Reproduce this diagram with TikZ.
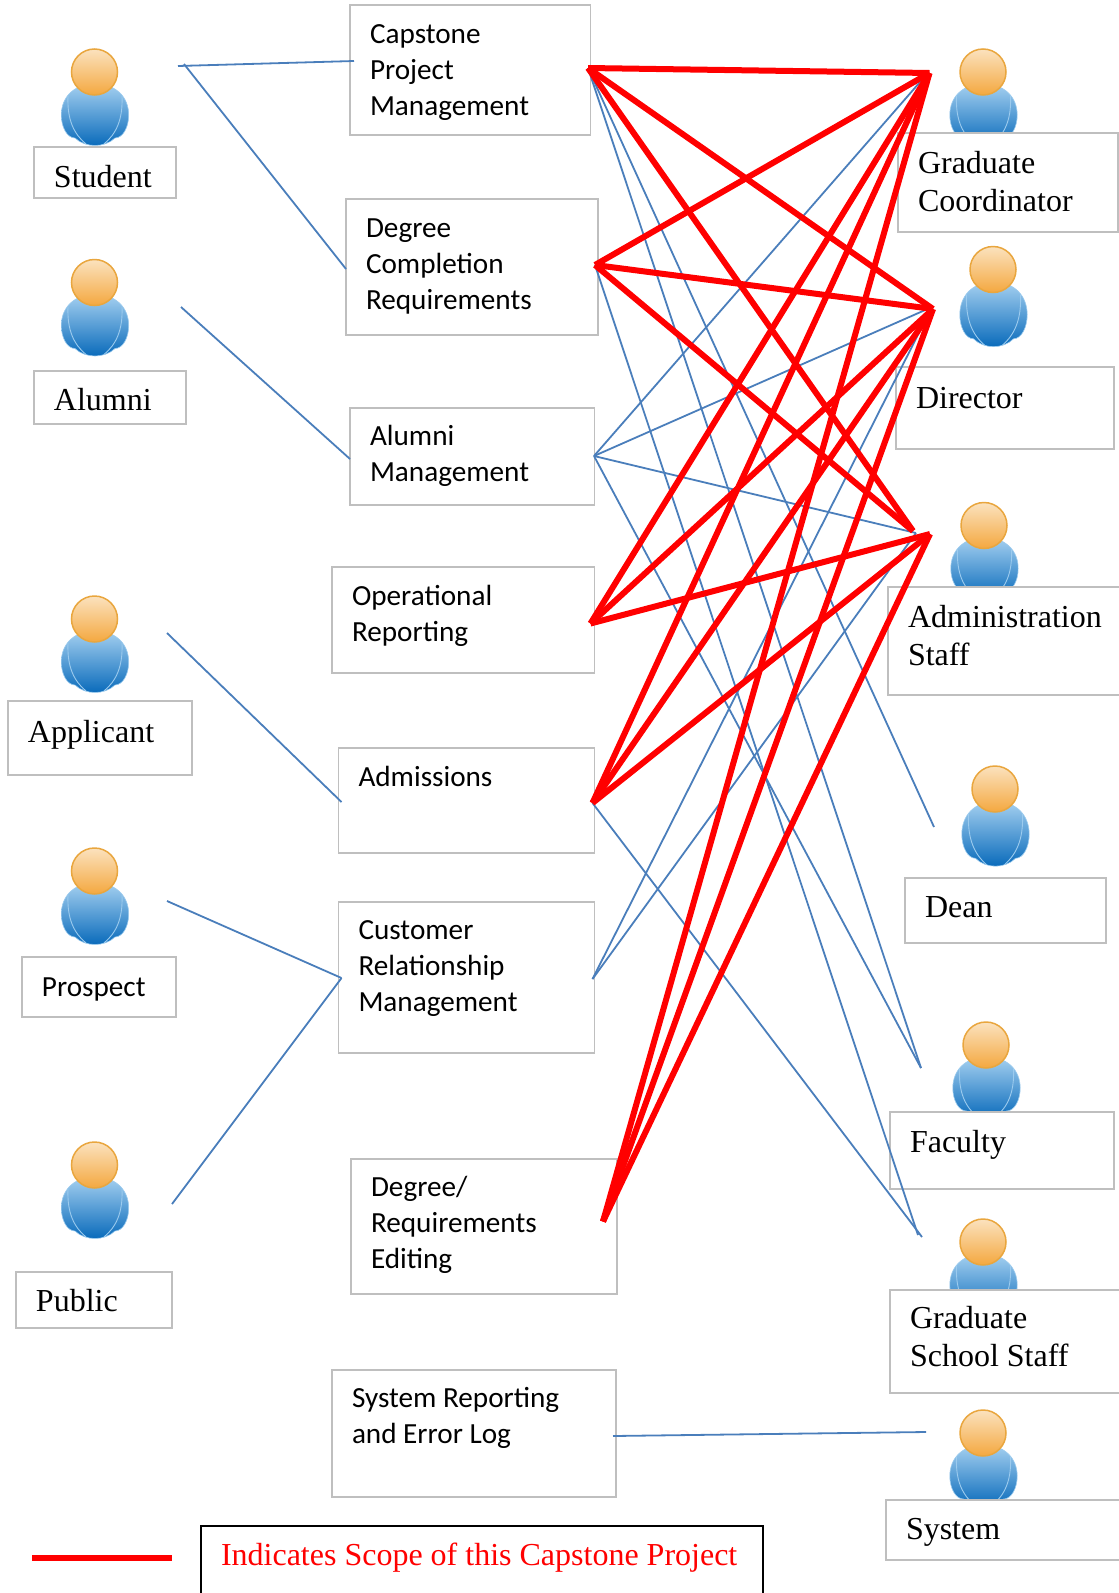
\documentclass[tikz,border=0pt]{standalone}
\usepackage{fontspec}
\setmainfont{Liberation Serif}
\newfontfamily\calibrifont{Carlito}
\usetikzlibrary{calc}
\definecolor{boxgray}{HTML}{BFBFBF}
\definecolor{linkblue}{HTML}{4A7EBB}
\definecolor{scopered}{HTML}{FF0000}
\definecolor{bodytop}{HTML}{A5D0F0}
\definecolor{bodymid}{HTML}{5FA6DE}
\definecolor{bodybot}{HTML}{0A6BBB}
\definecolor{bodyline}{HTML}{9CCBEE}
\definecolor{headtop}{HTML}{FBE2BE}
\definecolor{headbot}{HTML}{F4A840}
\definecolor{headline}{HTML}{E9A63E}
\newcommand\sansT{\calibrifont\fontsize{29.2}{36}\selectfont}
\newcommand\serifT{\fontsize{32}{38}\selectfont}
\tikzset{
  textbox/.style={draw=boxgray,fill=white,line width=1.5pt,inner sep=0pt,outer sep=0pt,anchor=north west},
  legendbox/.style={textbox,draw=black},
  headnode/.style={circle,minimum size=46pt,inner sep=0pt,draw=headline,line width=1.5pt,top color=headtop,bottom color=headbot},
  bodyshape/.style={draw=bodyline,line width=.6pt,top color=bodytop,middle color=bodymid,bottom color=bodybot},
  bodyarc/.style={draw=bodyline,line width=.9pt},
  thin link/.style={draw=linkblue,line width=1.8pt},
  scope link/.style={draw=scopered,line width=6pt}
}
% \rbox[style]{name}{x0}{y0}{x1}{y1}{first baseline offset}{font}{text}
\newcommand\rbox[9][textbox]{%
  \pgfmathsetmacro\bw{#5-#3}%
  \pgfmathsetmacro\bh{#6-#4}%
  \pgfmathsetmacro\bp{#7-22}%
  \node[#1] (#2) at (#3,#4) {\parbox[c][\bh pt][t]{\bw pt}{#8\raggedright\leftskip=20pt\relax\vspace*{\bp pt}\rule{0pt}{22pt}#9}};%
}
% \actor[body y scale]{name}{x}{y}
\newcommand\actor[4][1]{%
  \begin{scope}[shift={(#3,#4)}]
    \begin{scope}[xshift=0.5pt,yscale=#1]
    \path[bodyshape] (0,12) .. controls (22,12) and (33.7,26) .. (33.7,43)
      .. controls (33.7,55) and (28,66) .. (20,66)
      .. controls (15,71) and (7,73.5) .. (0,73.5)
      .. controls (-7,73.5) and (-15,71) .. (-20,66)
      .. controls (-28,66) and (-33.7,55) .. (-33.7,43)
      .. controls (-33.7,26) and (-22,12) .. (0,12) -- cycle;
    \path[bodyarc] (-27,24) .. controls (-28,48) and (-21,62) .. (-9,72);
    \path[bodyarc] (27,24) .. controls (28,48) and (21,62) .. (9,72);
    \end{scope}
    \node[headnode] (#2) at (0,0) {};
  \end{scope}%
}
\begin{document}
\begin{tikzpicture}[x=1pt,y=-1pt]
\useasboundingbox (0,0) rectangle (1119,1593);
\clip (0,0) rectangle (1119,1593);

% actors
\actor{student}{94.5}{72}
\actor{alumni}{94.5}{282.5}
\actor{applicant}{94.5}{619}
\actor{prospect}{94.5}{871}
\actor{public}{94.5}{1165}
\actor{gradcoord}{983}{72}
\actor[1.05]{director}{993}{269.5}
\actor{adminstaff}{984}{525.5}
\actor[1.05]{dean}{995}{789}
\actor{faculty}{986}{1045}
\actor{gradstaff}{983}{1242}
\actor{system}{983}{1433}

% actor labels
\rbox{studentL}{34}{147}{176}{198}{40}{\serifT}{Student}
\rbox{alumniL}{34}{371}{186}{424}{39.5}{\serifT}{Alumni}
\rbox{applicantL}{8}{701}{192}{775}{41}{\serifT}{Applicant}
\rbox{prospectL}{22}{957}{176}{1017}{39}{\sansT}{Prospect}
\rbox{publicL}{16}{1272}{172}{1328}{39}{\serifT}{Public}
\rbox{gradcoordL}{898}{133}{1118}{232}{40}{\serifT}{Graduate\\Coordinator}
\rbox{directorL}{896}{367}{1114}{449}{41}{\serifT}{Director}
\rbox{adminstaffL}{888}{587}{1128}{695}{40}{\serifT}{Administration\\Staff}
\rbox{deanL}{905}{878}{1106}{943}{39.5}{\serifT}{Dean}
\rbox{facultyL}{890}{1112}{1114}{1189}{40}{\serifT}{Faculty}
\rbox{gradstaffL}{890}{1290}{1128}{1393}{38.5}{\serifT}{Graduate\\School Staff}
\rbox{systemL}{886}{1500}{1128}{1560}{39}{\serifT}{System}

% use-case boxes
\rbox{capstone}{350}{5}{590.5}{135}{38}{\sansT}{Capstone\\Project\\Management}
\rbox{degree}{346}{199}{598}{335}{38}{\sansT}{Degree\\Completion\\Requirements}
\rbox{alumnimgmt}{350}{408}{594.5}{505}{37}{\sansT}{Alumni\\Management}
\rbox{operational}{332}{567}{594.5}{673}{38}{\sansT}{Operational\\Reporting}
\rbox{admissions}{338.5}{748}{594.5}{853}{38}{\sansT}{Admissions}
\rbox{crm}{338.5}{902}{594.5}{1053}{37}{\sansT}{Customer\\Relationship\\Management}
\rbox{degedit}{351}{1159}{617}{1294}{37}{\sansT}{Degree/\\Requirements\\Editing}
\rbox{sysreport}{332}{1370}{616}{1497}{37}{\sansT}{System Reporting\\and Error Log}
\rbox[legendbox]{legend}{201}{1526}{763}{1610}{39}{\serifT\color{scopered}}{Indicates Scope of this Capstone Project}

% hubs on the use-case boxes
\coordinate (hubCap) at ($(capstone.east)+(-2.5,-2)$);
\coordinate (hubDeg) at ($(degree.east)+(-3,-2)$);
\coordinate (hubAlu) at ($(alumnimgmt.east)+(-0.5,-0.5)$);
\coordinate (hubOpe) at ($(operational.east)+(-4,3.5)$);
\coordinate (hubAdm) at ($(admissions.east)+(-2,2.5)$);
\coordinate (hubCrm) at ($(crm.east)+(-2,1.5)$);
\coordinate (hubEdt) at ($(degedit.east)+(-14,-5)$);

% free ends near the actors
\coordinate (stuA) at (178,66);
\coordinate (stuB) at (184,64);
\coordinate (aluA) at (181,307);
\coordinate (appA) at (167,633);
\coordinate (proA) at (167,901);
\coordinate (pubA) at (172,1204);
\coordinate (capIn) at (354,61);
\coordinate (degIn) at (346,269);
\coordinate (aluIn) at (350,459);
\coordinate (admIn) at (341.5,802);
\coordinate (crmIn) at (341.5,978);
\coordinate (sysOut) at (613,1436);
\coordinate (sysIn) at (926,1432);
\coordinate (gcT) at (929.5,73);
\coordinate (dirT) at (933,309);
\coordinate (admT) at (930,534);
\coordinate (admTb) at (913,531);
\coordinate (gcB) at (927,74);
\coordinate (dirB) at (932,307);
\coordinate (admB) at (916,533);
\coordinate (deanB) at (934,827);
\coordinate (facB) at (921,1068);
\coordinate (gssA) at (918,1235);
\coordinate (gssB) at (922,1237);
\coordinate (legA) at (32,1558);
\coordinate (legB) at (172,1558);

% left-hand links
\draw[thin link] (stuA) -- (capIn);
\draw[thin link] (stuB) -- (degIn);
\draw[thin link] (aluA) -- (aluIn);
\draw[thin link] (appA) -- (admIn);
\draw[thin link] (proA) -- (crmIn);
\draw[thin link] (pubA) -- (crmIn);
\draw[thin link] (sysOut) -- (sysIn);

% thin links to the right
\draw[thin link] (hubCap) -- (deanB);
\draw[thin link] (hubCap) -- (facB);
\draw[thin link] (hubDeg) -- (gssA);
\draw[thin link] (hubAlu) -- (gcB);
\draw[thin link] (hubAlu) -- (dirB);
\draw[thin link] (hubAlu) -- (admB);
\draw[thin link] (hubAlu) -- (facB);
\draw[thin link] (hubAdm) -- (gssB);
\draw[thin link] (hubCrm) -- (dirB);
\draw[thin link] (hubCrm) -- (admB);

% scope links
\draw[scope link] (hubCap) -- (gcT);
\draw[scope link] (hubCap) -- (dirT);
\draw[scope link] (hubCap) -- (admTb);
\draw[scope link] (hubDeg) -- (gcT);
\draw[scope link] (hubDeg) -- (dirT);
\draw[scope link] (hubDeg) -- (admTb);
\draw[scope link] (hubOpe) -- (gcT);
\draw[scope link] (hubOpe) -- (dirT);
\draw[scope link] (hubOpe) -- (admT);
\draw[scope link] (hubAdm) -- (gcT);
\draw[scope link] (hubAdm) -- (dirT);
\draw[scope link] (hubAdm) -- (admT);
\draw[scope link] (hubEdt) -- (gcT);
\draw[scope link] (hubEdt) -- (dirT);
\draw[scope link] (hubEdt) -- (admT);

% legend
\draw[scope link] (legA) -- (legB);
\end{tikzpicture}
\end{document}
